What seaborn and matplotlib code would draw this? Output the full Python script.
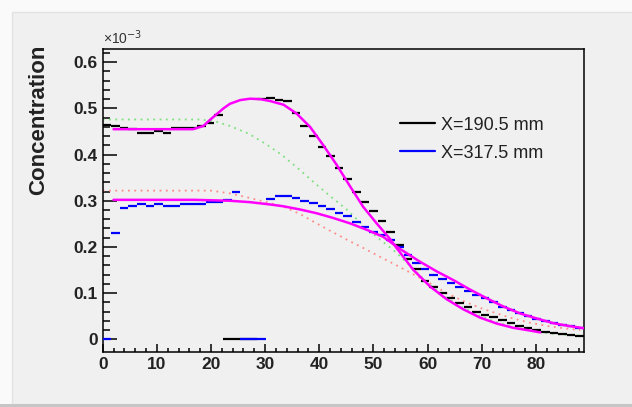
import numpy as np
import pandas as pd
import matplotlib
matplotlib.use("Agg")
import matplotlib.pyplot as plt
from matplotlib.lines import Line2D
from matplotlib.patches import Rectangle
import seaborn as sns

# ---- data (concentration, units of 1e-3) ----
y_width_mm = 88.9
n_bins = 56

conc_190 = [0.463, 0.462, 0.458, 0.455, 0.446, 0.446, 0.450, 0.446, 0.457, 0.457,
            0.457, 0.462, 0.469, 0.485, 0.0, 0.0, 0.0, 0.0, 0.520, 0.523,
            0.518, 0.515, 0.489, 0.462, 0.441, 0.416, 0.396, 0.372, 0.347, 0.318,
            0.298, 0.278, 0.257, 0.233, 0.204, 0.174, 0.152, 0.126, 0.114, 0.100,
            0.089, 0.078, 0.069, 0.060, 0.053, 0.048, 0.042, 0.035, 0.029, 0.024,
            0.020, 0.016, 0.014, 0.011, 0.010, 0.008]

conc_317 = [0.0, 0.230, 0.285, 0.289, 0.293, 0.289, 0.293, 0.289, 0.289, 0.293,
            0.293, 0.293, 0.297, 0.297, 0.302, 0.318, 0.0, 0.0, 0.0, 0.303,
            0.310, 0.310, 0.305, 0.300, 0.296, 0.289, 0.282, 0.274, 0.266, 0.255,
            0.244, 0.233, 0.226, 0.215, 0.200, 0.182, 0.166, 0.153, 0.140, 0.131,
            0.123, 0.114, 0.105, 0.096, 0.089, 0.081, 0.071, 0.063, 0.058, 0.050,
            0.045, 0.040, 0.036, 0.032, 0.029, 0.025]

# fitted curves (magenta)
fit190_x = [2.0, 16.7, 18.6, 19.8, 21.1, 22.3, 23.5, 25.4, 27.2, 29.1, 30.9, 33.4,
            35.8, 38.3, 40.7, 43.2, 45.7, 48.1, 50.6, 53.1, 54.0, 57.4, 60.5, 63.5,
            66.6, 69.7, 72.8, 75.8, 78.9, 80.8]
fit190_y = [0.455, 0.455, 0.462, 0.475, 0.488, 0.500, 0.510, 0.518, 0.521, 0.520,
            0.516, 0.508, 0.489, 0.460, 0.421, 0.378, 0.331, 0.287, 0.251, 0.217,
            0.202, 0.150, 0.114, 0.087, 0.065, 0.047, 0.034, 0.025, 0.019, 0.015]

fit317_x = [2.0, 10.0, 17.0, 23.5, 27.2, 30.9, 33.4, 36.5, 39.5, 42.5, 45.7, 48.8,
            51.8, 55.0, 58.6, 61.7, 64.8, 67.8, 70.9, 74.0, 77.1, 80.2, 83.2, 86.0, 88.9]
fit317_y = [0.302, 0.302, 0.302, 0.300, 0.297, 0.292, 0.288, 0.281, 0.273, 0.263,
            0.251, 0.237, 0.222, 0.195, 0.168, 0.147, 0.128, 0.108, 0.089, 0.071,
            0.056, 0.045, 0.035, 0.029, 0.024]

# dotted reference curves
green_x = [0.0, 18.0, 21.0, 23.5, 27.0, 30.0, 33.0, 36.0, 39.0, 42.0, 45.0, 48.0,
           51.0, 54.0, 57.0, 60.0, 63.0, 66.0, 69.0, 72.0, 75.0, 78.0, 81.0, 84.0, 88.9]
green_y = [0.476, 0.476, 0.471, 0.462, 0.445, 0.424, 0.400, 0.371, 0.340, 0.310,
           0.282, 0.248, 0.218, 0.190, 0.157, 0.122, 0.094, 0.072, 0.054, 0.040,
           0.029, 0.021, 0.015, 0.011, 0.007]

red_x = [0.0, 20.0, 23.5, 27.2, 30.9, 33.4, 36.5, 39.5, 42.5, 45.7, 48.1, 51.0,
         54.3, 57.5, 60.5, 63.5, 66.6, 69.7, 72.8, 75.8, 78.9, 82.0, 85.1, 88.2]
red_y = [0.322, 0.322, 0.316, 0.306, 0.295, 0.287, 0.271, 0.251, 0.232, 0.212,
         0.198, 0.180, 0.160, 0.140, 0.121, 0.100, 0.083, 0.068, 0.056, 0.045,
         0.036, 0.029, 0.024, 0.020]

labels = ["X=190.5 mm", "X=317.5 mm"]

# ---- style ----
sns.set_style("ticks")
plt.rcParams['font.family'] = ['Liberation Sans', 'DejaVu Sans']
plt.rcParams['axes.linewidth'] = 1.1

fig = plt.figure(figsize=(6.32, 4.07), dpi=100)
fig.patch.set_facecolor('#fafafa')
# canvas panel (behind the axes)
fig.patches.append(Rectangle((12 / 632, 3 / 407), 1, 392 / 407, transform=fig.transFigure,
                             facecolor='#f0f0f0', edgecolor='#e2e2e2', lw=1.0, zorder=-10))
fig.patches.append(Rectangle((0, 0), 1, 3.5 / 407, transform=fig.transFigure,
                             facecolor='#c6c6c6', edgecolor='none', zorder=-10))

ax = fig.add_axes([0.1625, 0.1351, 0.7616, 0.7438])
ax.set_facecolor('#f0f0f0')

edges = np.linspace(0, y_width_mm, n_bins + 1)
hist = pd.DataFrame({"lo": edges[:-1], "hi": edges[1:],
                     "c190": conc_190, "c317": conc_317})

# dotted curves
sns.lineplot(x=green_x, y=green_y, ax=ax, color='#7ce07c', lw=1.3,
             linestyle=(0, (1, 2.5)), sort=False, estimator=None, zorder=1)
sns.lineplot(x=red_x, y=red_y, ax=ax, color='#ff8a8a', lw=1.3,
             linestyle=(0, (1, 2.5)), sort=False, estimator=None, zorder=1)

# histograms as bin segments
ax.hlines(hist["c190"], hist["lo"], hist["hi"], color='black', lw=1.6, zorder=2)
ax.hlines(hist["c317"], hist["lo"], hist["hi"], color='#0000ff', lw=1.6, zorder=3)

# fits
sns.lineplot(x=fit190_x, y=fit190_y, ax=ax, color='#ff00ff', lw=1.8,
             sort=False, estimator=None, zorder=4)
sns.lineplot(x=fit317_x, y=fit317_y, ax=ax, color='#ff00ff', lw=1.8,
             sort=False, estimator=None, zorder=4)

ax.set_xlim(0, y_width_mm)
ax.set_ylim(-0.0275, 0.628)
ax.set_xticks(np.arange(0, 81, 10))
ax.set_xticks(np.arange(0, 89, 2), minor=True)
ax.set_yticks(np.arange(0, 0.61, 0.1))
ax.set_yticks(np.arange(0, 0.63, 0.02), minor=True)
ax.set_yticklabels(["0", "0.1", "0.2", "0.3", "0.4", "0.5", "0.6"])
ax.tick_params(axis='both', which='both', direction='in', width=1.1, colors='black',
               labelsize=12.5, top=False, right=False)
ax.tick_params(axis='y', which='major', length=10, pad=3.4)
ax.tick_params(axis='y', which='minor', length=5)
ax.tick_params(axis='x', which='major', length=5.8, pad=3.8)
ax.tick_params(axis='x', which='minor', length=2.9)
for lab in ax.get_xticklabels() + ax.get_yticklabels():
    lab.set_fontweight('bold')
    lab.set_color('#222222')
for s in ax.spines.values():
    s.set_visible(True)
    s.set_color('black')

ax.set_xlabel("")
ax.set_ylabel("Concentration", fontsize=16, fontweight='bold', color='#222222')
ax.yaxis.set_label_coords(-0.112, 1.014)
ax.yaxis.label.set_ha('right')

ax.text(0.0, 1.008, "×10$^{-3}$", transform=ax.transAxes, fontsize=10,
        color='#333333', ha='left', va='bottom')

handles = [Line2D([], [], color='black', lw=1.6),
           Line2D([], [], color='#0000ff', lw=1.6)]
leg = ax.legend(handles, labels, loc='upper left', bbox_to_anchor=(0.618, 0.777),
                frameon=False, fontsize=13, handlelength=1.95, handletextpad=0.3,
                labelspacing=0.6, borderpad=0, borderaxespad=0)
for t in leg.get_texts():
    t.set_color('#222222')

fig.savefig("out.png", dpi=100, facecolor=fig.get_facecolor())
